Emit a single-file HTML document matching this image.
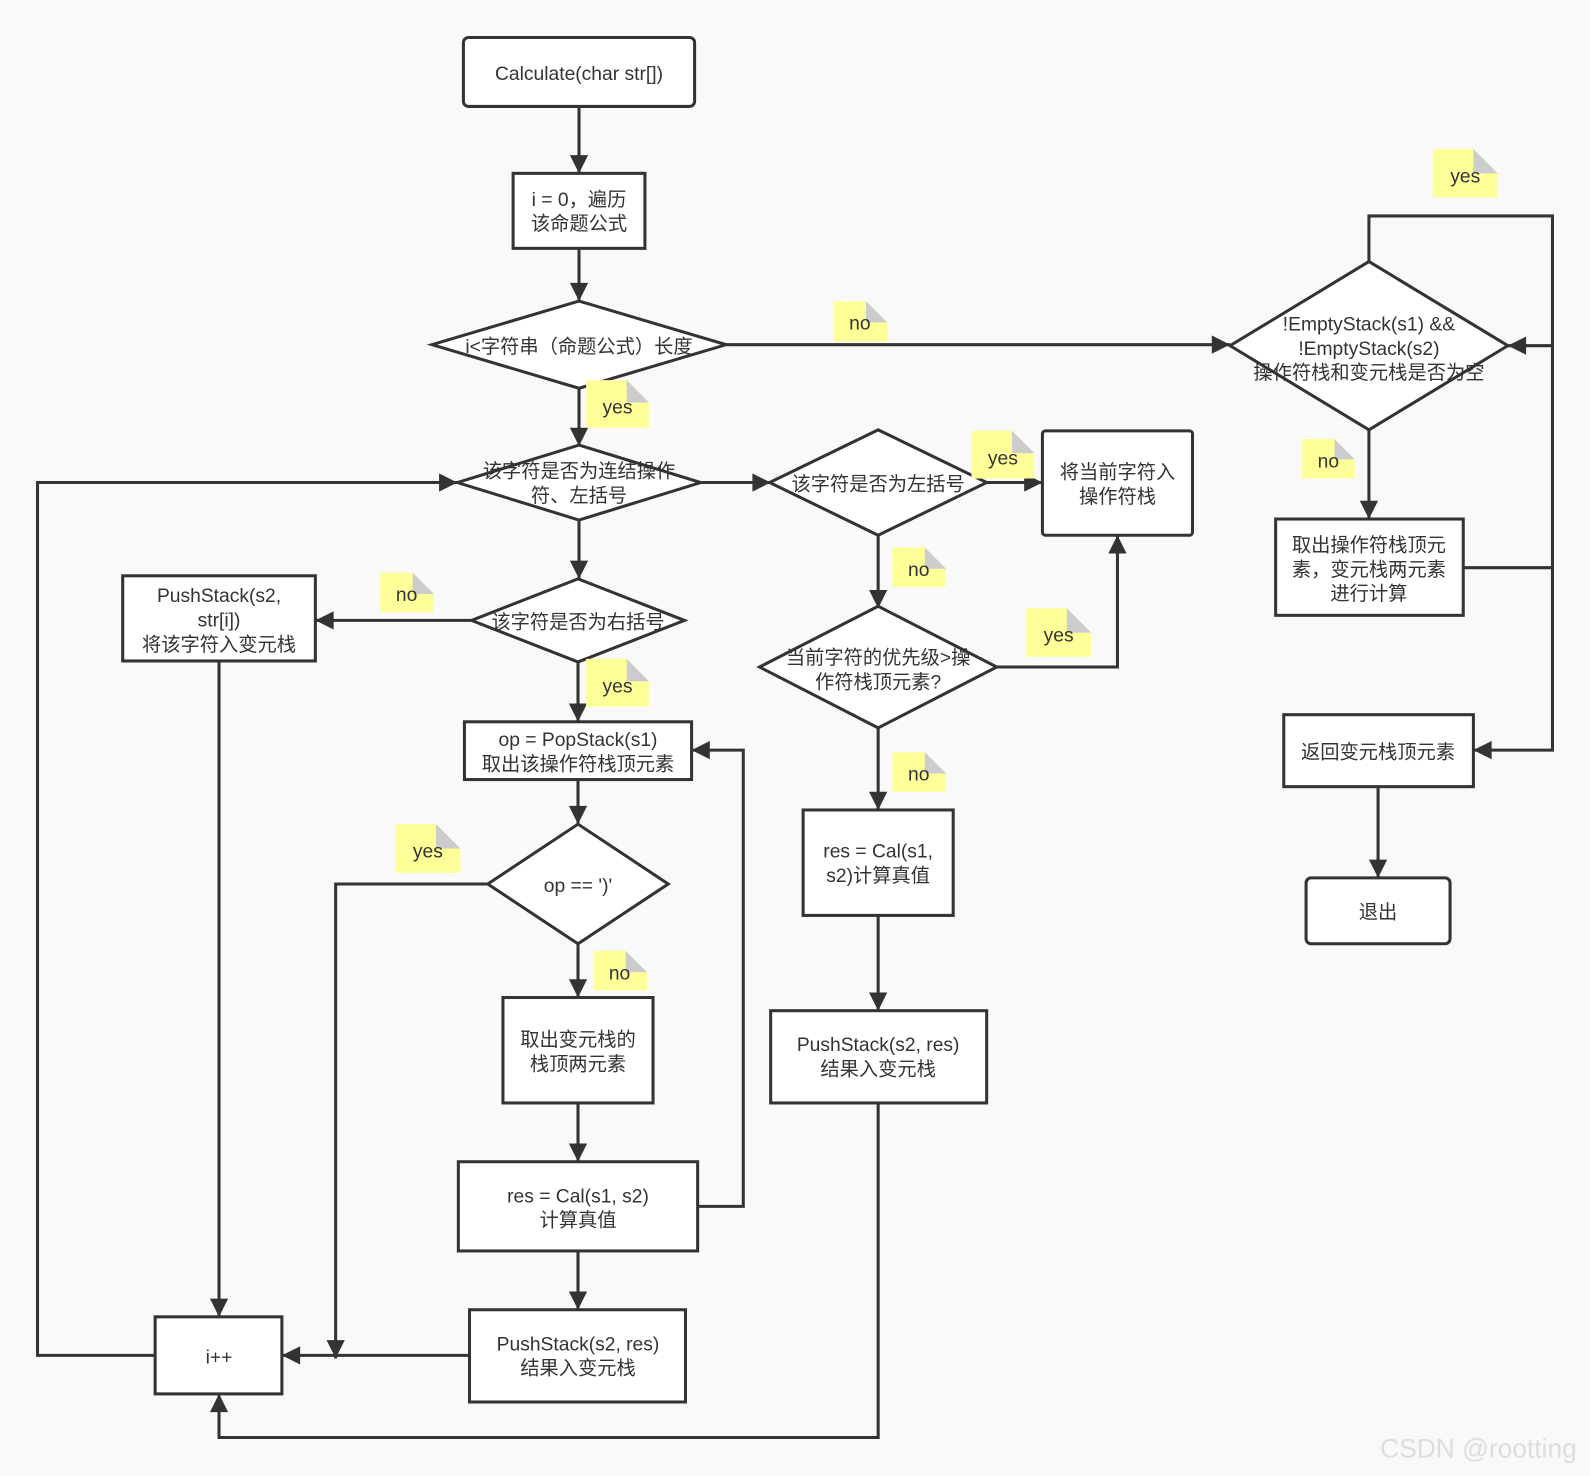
<!DOCTYPE html>
<html><head><meta charset="utf-8"><style>
html,body{margin:0;padding:0;background:#f9f9f9;}
svg{display:block;}
text{font-family:"Liberation Sans","Noto Sans CJK SC",sans-serif;font-size:19px;fill:#333;text-anchor:middle;}
</style></head><body>
<svg width="1590" height="1476" viewBox="0 0 1568 1456" preserveAspectRatio="none" xmlns="http://www.w3.org/2000/svg">
<defs>
<marker id="a" viewBox="0 0 10 10" refX="10" refY="5" markerWidth="8" markerHeight="8" markerUnits="userSpaceOnUse" orient="auto">
<path d="M0,0 L10,5 L0,10 z" fill="#333"/></marker>
<marker id="b" viewBox="0 0 10 10" refX="10" refY="5" markerWidth="22" markerHeight="18" markerUnits="userSpaceOnUse" orient="auto">
<path d="M0,0 L10,5 L0,10 z" fill="#333"/></marker>
</defs>
<rect width="1568" height="1456" fill="#f9f9f9"/>
<g fill="none" stroke="#333" stroke-width="3">
<path d="M571,105V171" marker-end="url(#b)"/>
<path d="M571,245V297" marker-end="url(#b)"/>
<path d="M571,383V440" marker-end="url(#b)"/>
<path d="M716,340H1213" marker-end="url(#b)"/>
<path d="M691,476H760" marker-end="url(#b)"/>
<path d="M973,476H1028" marker-end="url(#b)"/>
<path d="M866,528V600" marker-end="url(#b)"/>
<path d="M982,658H1102V528" marker-end="url(#b)"/>
<path d="M866,718V799" marker-end="url(#b)"/>
<path d="M866,903V997" marker-end="url(#b)"/>
<path d="M866,1088V1418H216V1375" marker-end="url(#b)"/>
<path d="M571,513V571" marker-end="url(#b)"/>
<path d="M465,612H311" marker-end="url(#b)"/>
<path d="M570,653V712" marker-end="url(#b)"/>
<path d="M570,769V813" marker-end="url(#b)"/>
<path d="M481,872H331V1340" marker-end="url(#b)"/>
<path d="M570,931V984" marker-end="url(#b)"/>
<path d="M570,1088V1146" marker-end="url(#b)"/>
<path d="M688,1190H733V740H682" marker-end="url(#b)"/>
<path d="M570,1234V1292" marker-end="url(#b)"/>
<path d="M463,1337H278" marker-end="url(#b)"/>
<path d="M216,652V1299" marker-end="url(#b)"/>
<path d="M153,1337H37V476H451" marker-end="url(#b)"/>
<path d="M1350,258V213H1531V740H1453" marker-end="url(#b)"/>
<path d="M1531,341H1487" marker-end="url(#b)"/>
<path d="M1443,560H1531"/>
<path d="M1350,424V512" marker-end="url(#b)"/>
<path d="M1359,776V866" marker-end="url(#b)"/>
</g>
<g fill="#fff" stroke="#333" stroke-width="3">
<rect x="457" y="37" width="228" height="68" rx="5"/>
<rect x="506" y="171" width="130" height="74"/>
<polygon points="426,340 571,297 716,340 571,383"/>
<polygon points="451,476 571,439 691,476 571,513"/>
<polygon points="759,476 866,424 973,476 866,528"/>
<rect x="1028" y="425" width="148" height="103" rx="3"/>
<polygon points="465,612 570,571 675,612 570,653"/>
<rect x="121" y="568" width="190" height="84"/>
<polygon points="749,658 866,598 983,658 866,718"/>
<rect x="458" y="712" width="224" height="57"/>
<polygon points="481,872 570,813 659,872 570,931"/>
<rect x="792" y="799" width="148" height="104"/>
<rect x="496" y="984" width="148" height="104"/>
<rect x="760" y="997" width="213" height="91"/>
<rect x="452" y="1146" width="236" height="88"/>
<rect x="463" y="1292" width="213" height="91"/>
<rect x="153" y="1299" width="125" height="76"/>
<polygon points="1213,341 1350,258 1487,341 1350,424"/>
<rect x="1258" y="512" width="185" height="95"/>
<rect x="1266" y="705" width="187" height="71"/>
<rect x="1288" y="866" width="142" height="65" rx="5"/>
</g>
<g>
<text x="571" y="79">Calculate(char str[])</text>
<text x="571" y="203">i = 0，遍历</text><text x="571" y="227">该命题公式</text>
<text x="571" y="348">i&lt;字符串（命题公式）长度</text>
<text x="571" y="471">该字符是否为连结操作</text><text x="571" y="495">符、左括号</text>
<text x="866" y="484">该字符是否为左括号</text>
<text x="1102" y="472">将当前字符入</text><text x="1102" y="496">操作符栈</text>
<text x="570" y="620">该字符是否为右括号</text>
<text x="216" y="594">PushStack(s2,</text><text x="216" y="618">str[i])</text><text x="216" y="642">将该字符入变元栈</text>
<text x="866" y="655">当前字符的优先级&gt;操</text><text x="866" y="679">作符栈顶元素?</text>
<text x="570" y="736">op = PopStack(s1)</text><text x="570" y="760">取出该操作符栈顶元素</text>
<text x="570" y="880">op == ')'</text>
<text x="866" y="846">res = Cal(s1,</text><text x="866" y="870">s2)计算真值</text>
<text x="570" y="1032">取出变元栈的</text><text x="570" y="1056">栈顶两元素</text>
<text x="866" y="1037">PushStack(s2, res)</text><text x="866" y="1061">结果入变元栈</text>
<text x="570" y="1186">res = Cal(s1, s2)</text><text x="570" y="1210">计算真值</text>
<text x="570" y="1332">PushStack(s2, res)</text><text x="570" y="1356">结果入变元栈</text>
<text x="216" y="1345">i++</text>
<text x="1350" y="326">!EmptyStack(s1) &amp;&amp;</text><text x="1350" y="350">!EmptyStack(s2)</text><text x="1350" y="374">操作符栈和变元栈是否为空</text>
<text x="1350" y="544">取出操作符栈顶元</text><text x="1350" y="568">素，变元栈两元素</text><text x="1350" y="592">进行计算</text>
<text x="1359" y="748">返回变元栈顶元素</text>
<text x="1359" y="906">退出</text>
</g>
<g>
<g transform="translate(578,375)"><path d="M0,0H40L62,22V47H0Z" fill="#ffff99"/><path d="M40,0L62,22H40Z" fill="#ccc"/><text x="31" y="33">yes</text></g>
<g transform="translate(822,297)"><path d="M0,0H32L53,21V40H0Z" fill="#ffff99"/><path d="M32,0L53,21H32Z" fill="#ccc"/><text x="26" y="28">no</text></g>
<g transform="translate(958,425)"><path d="M0,0H40L62,22V47H0Z" fill="#ffff99"/><path d="M40,0L62,22H40Z" fill="#ccc"/><text x="31" y="33">yes</text></g>
<g transform="translate(880,540)"><path d="M0,0H32L53,21V39H0Z" fill="#ffff99"/><path d="M32,0L53,21H32Z" fill="#ccc"/><text x="26" y="28">no</text></g>
<g transform="translate(1012,600)"><path d="M0,0H40L64,24V48H0Z" fill="#ffff99"/><path d="M40,0L64,24H40Z" fill="#ccc"/><text x="32" y="33">yes</text></g>
<g transform="translate(880,742)"><path d="M0,0H32L53,21V39H0Z" fill="#ffff99"/><path d="M32,0L53,21H32Z" fill="#ccc"/><text x="26" y="28">no</text></g>
<g transform="translate(375,565)"><path d="M0,0H32L53,21V39H0Z" fill="#ffff99"/><path d="M32,0L53,21H32Z" fill="#ccc"/><text x="26" y="28">no</text></g>
<g transform="translate(578,650)"><path d="M0,0H40L62,22V47H0Z" fill="#ffff99"/><path d="M40,0L62,22H40Z" fill="#ccc"/><text x="31" y="33">yes</text></g>
<g transform="translate(390,813)"><path d="M0,0H40L64,24V48H0Z" fill="#ffff99"/><path d="M40,0L64,24H40Z" fill="#ccc"/><text x="32" y="33">yes</text></g>
<g transform="translate(585,938)"><path d="M0,0H32L53,21V39H0Z" fill="#ffff99"/><path d="M32,0L53,21H32Z" fill="#ccc"/><text x="26" y="28">no</text></g>
<g transform="translate(1413,147)"><path d="M0,0H40L64,24V48H0Z" fill="#ffff99"/><path d="M40,0L64,24H40Z" fill="#ccc"/><text x="32" y="33">yes</text></g>
<g transform="translate(1284,433)"><path d="M0,0H32L52,20V39H0Z" fill="#ffff99"/><path d="M32,0L52,20H32Z" fill="#ccc"/><text x="26" y="28">no</text></g>
</g>
<text x="1458" y="1438" style="font-size:26px;fill:#ddd;">CSDN @rootting</text>
</svg>
</body></html>
